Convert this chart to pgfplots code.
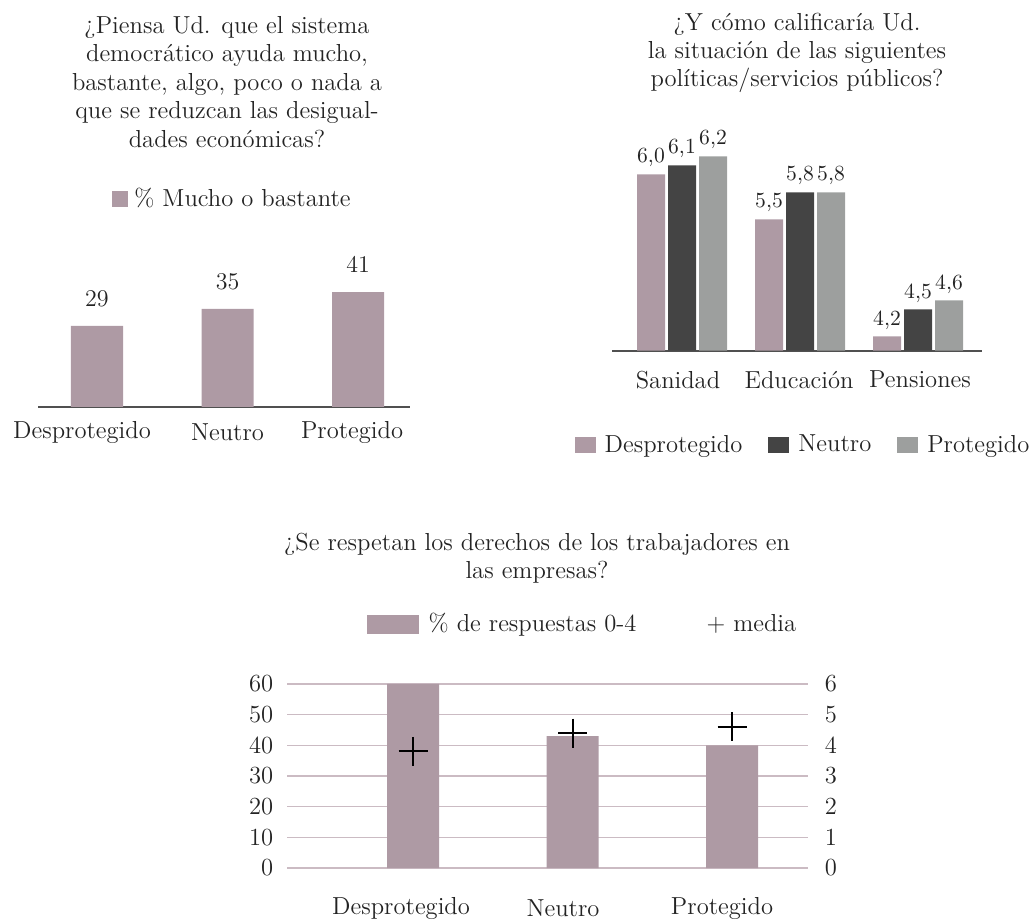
\documentclass[border=0pt]{standalone}
\usepackage{fontspec}
\usepackage{pgfplots}
\pgfplotsset{compat=1.18}
\definecolor{mauve}{RGB}{174,154,164}
\definecolor{darkb}{RGB}{68,68,68}
\definecolor{lgray}{RGB}{157,159,158}
\definecolor{gridc}{RGB}{203,187,195}
\definecolor{axisc}{RGB}{80,80,80}
\definecolor{txt}{RGB}{35,35,35}
\newcommand\ft{\fontsize{12.3}{14.2}\selectfont}
\newcommand\fs{\fontsize{10.8}{12}\selectfont}
\begin{document}
\begin{tikzpicture}[font=\ft, text=txt]
\path[use as bounding box] (0,0) rectangle (518pt,459.5pt);

% ---------- titles ----------
\node[align=center] at (113.5pt,418.5pt) {¿Piensa Ud. que el sistema\\democrático ayuda mucho,\\bastante, algo, poco o nada a\\que se reduzcan las desigual-\\dades económicas?};
\node[align=center] at (398.5pt,433pt) {¿Y cómo calificaría Ud.\\la situación de las siguientes\\políticas/servicios públicos?};
\node[align=center] at (268.5pt,180.5pt) {¿Se respetan los derechos de los trabajadores en\\las empresas?};

% ---------- panel 1 ----------
\begin{axis}[
  at={(19pt,256pt)}, anchor=south west,
  scale only axis, width=186pt, height=63pt,
  xmin=-0.452, xmax=2.398, ymin=0, ymax=45,
  axis x line*=bottom, axis y line=none,
  x axis line style={draw=axisc, line width=1pt, -},
  xtick={-0.115,1.0,1.954}, xticklabels={Desprotegido,Neutro,Protegido},
  major tick length=0pt,
  xticklabel style={anchor=center, yshift=-12.5pt, font=\ft, text=txt},
  clip=false,
  ybar, bar width=26pt,
  nodes near coords,
  every node near coord/.append style={anchor=center, yshift=13.75pt, font=\ft, text=txt},
  legend style={at={(0.5255,1.651)}, anchor=center, draw=none, fill=none, font=\ft, text=txt},
  legend image code/.code={\fill[mauve] (0pt,-4pt) rectangle (8pt,4pt); \path (9pt,0pt);},
]
\addplot[fill=mauve, draw=none] coordinates {(0,29) (1,35) (2,41)};
\addlegendentry{\% Mucho o bastante}
\end{axis}

% ---------- panel 2 ----------
\begin{axis}[
  at={(306pt,284.15pt)}, anchor=south west,
  scale only axis, width=185pt, height=110.7pt,
  xmin=-0.593, xmax=2.542, ymin=4.04, ymax=6.5,
  axis x line*=bottom, axis y line=none,
  x axis line style={draw=axisc, line width=1pt, -},
  xtick={-0.034,0.992,2.017}, xticklabels={Sanidad,Educación,Pensiones},
  major tick length=0pt,
  xticklabel style={anchor=center, yshift=-14.5pt, font=\ft, text=txt},
  clip=false,
  ybar=1.5pt, bar width=14pt,
  nodes near coords,
  every node near coord/.append style={anchor=center, yshift=8.25pt, font=\fs, text=txt,
     /pgf/number format/fixed, /pgf/number format/fixed zerofill,
     /pgf/number format/precision=1, /pgf/number format/use comma,
     /pgf/number format/assume math mode=true},
  legend columns=3,
  legend style={at={(0.519,-0.426)}, anchor=center, draw=none, fill=none, font=\ft, text=txt,
     /tikz/every even column/.append style={column sep=11pt}},
  legend image code/.code={\fill[#1] (0pt,-4pt) rectangle (10.5pt,4pt); \path (13pt,0pt);},
]
\addplot[fill=mauve, draw=none] coordinates {(0,6.0) (1,5.5) (2,4.2)};
\addlegendentry{Desprotegido}
\addplot[fill=darkb, draw=none] coordinates {(0,6.1) (1,5.8) (2,4.5)};
\addlegendentry{Neutro}
\addplot[fill=lgray, draw=none] coordinates {(0,6.2) (1,5.8) (2,4.6)};
\addlegendentry{Protegido}
\end{axis}

% ---------- panel 3 (left axis, bars) ----------
\begin{axis}[
  at={(143.5pt,25.5pt)}, anchor=south west,
  scale only axis, width=260.5pt, height=92pt,
  xmin=-0.79, xmax=2.476, ymin=0, ymax=60,
  axis x line*=bottom, axis y line*=left,
  axis line style={draw=none},
  ytick={0,10,...,60}, ymajorgrids,
  grid style={draw=gridc, line width=0.8pt},
  xtick={-0.075,0.94,1.937}, xticklabels={Desprotegido,Neutro,Protegido},
  major tick length=0pt,
  xticklabel style={anchor=center, yshift=-20pt, font=\ft, text=txt},
  yticklabel style={anchor=east, xshift=-3.4pt, font=\ft, text=txt, /pgf/number format/assume math mode=true},
  clip=false,
  ybar, bar width=26pt,
  legend columns=2,
  legend style={at={(0.569,1.326)}, anchor=center, draw=none, fill=none, font=\ft, text=txt,
     /tikz/every even column/.append style={column sep=31pt}},
  legend image code/.code={\fill[mauve] (0pt,-4.75pt) rectangle (26pt,4.75pt); \path (29pt,0pt);},
]
\addplot[fill=mauve, draw=none] coordinates {(0,60) (1,43) (2,40)};
\addlegendentry{\% de respuestas 0-4}
\addlegendimage{empty legend}
\addlegendentry{+ media}
\end{axis}

% ---------- panel 3 (right axis, means) ----------
\begin{axis}[
  at={(143.5pt,25.5pt)}, anchor=south west,
  scale only axis, width=260.5pt, height=92pt,
  xmin=-0.79, xmax=2.476, ymin=0, ymax=6,
  axis x line=none, axis y line*=right,
  axis line style={draw=none},
  ytick={0,1,...,6},
  major tick length=0pt,
  yticklabel style={anchor=west, xshift=4.9pt, font=\ft, text=txt, /pgf/number format/assume math mode=true},
  clip=false,
]
\addplot[only marks, mark=+, mark size=7.25pt, mark options={line width=1pt, draw=black}] coordinates {(0,3.8) (1,4.4) (2,4.6)};
\end{axis}
\end{tikzpicture}
\end{document}
